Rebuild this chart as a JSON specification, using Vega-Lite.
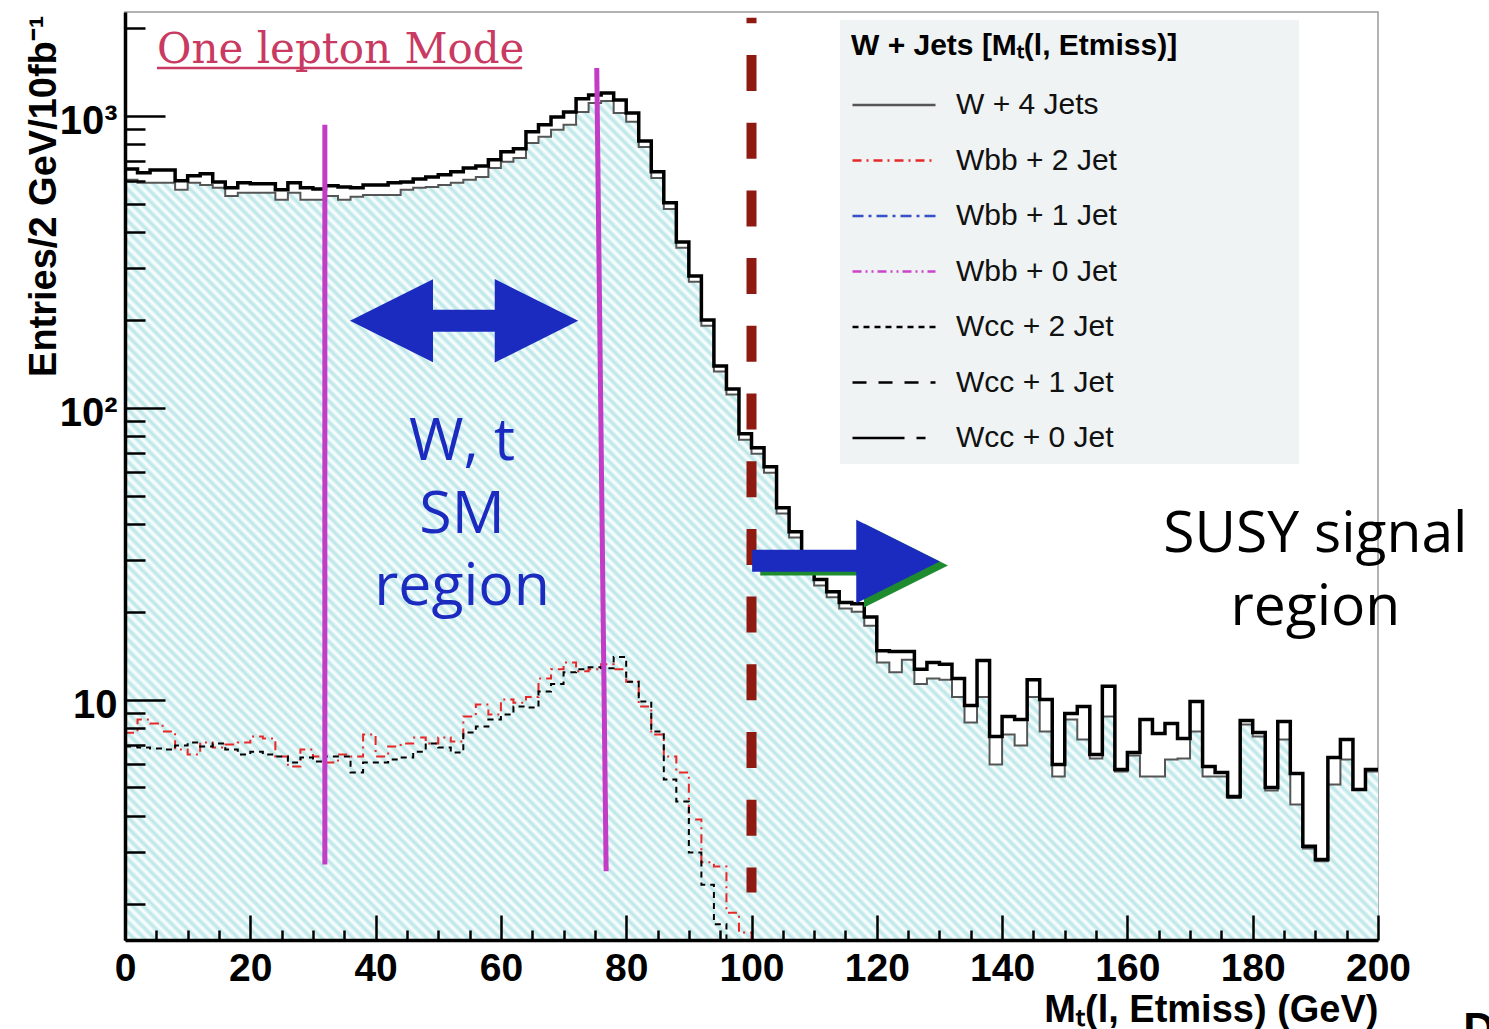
{
"$schema":"https://vega.github.io/schema/vega-lite/v6.json",
"width":1253,"height":928,
"autosize":{"type":"none"},
"padding":{"left":125,"top":12,"right":111,"bottom":89},
"background":"white",
"config":{"font":"Liberation Sans","view":{"stroke":"#999999","strokeWidth":1.5}},
"datasets":{"hist":[
{"x":0,"tot":658,"w4":604,"wbb2":7.7,"wcc2":6.9},
{"x":2,"tot":638,"w4":590,"wbb2":8.54,"wcc2":6.85},
{"x":4,"tot":653,"w4":590,"wbb2":8.28,"wcc2":6.79},
{"x":6,"tot":653,"w4":590,"wbb2":7.77,"wcc2":6.74},
{"x":8,"tot":599,"w4":558,"wbb2":6.74,"wcc2":6.96},
{"x":10,"tot":623,"w4":590,"wbb2":6.48,"wcc2":7.12},
{"x":12,"tot":633,"w4":580,"wbb2":7.12,"wcc2":6.9},
{"x":14,"tot":594,"w4":567,"wbb2":6.85,"wcc2":7.07},
{"x":16,"tot":567,"w4":532,"wbb2":7.01,"wcc2":6.74},
{"x":18,"tot":590,"w4":545,"wbb2":7.12,"wcc2":6.48},
{"x":20,"tot":585,"w4":545,"wbb2":7.47,"wcc2":6.63},
{"x":22,"tot":585,"w4":545,"wbb2":7.35,"wcc2":6.48},
{"x":24,"tot":558,"w4":516,"wbb2":6.38,"wcc2":6.38},
{"x":26,"tot":590,"w4":545,"wbb2":5.9,"wcc2":6.08},
{"x":28,"tot":567,"w4":516,"wbb2":6.74,"wcc2":6.33},
{"x":30,"tot":562,"w4":516,"wbb2":6.38,"wcc2":6.13},
{"x":32,"tot":576,"w4":532,"wbb2":6.08,"wcc2":6.38},
{"x":34,"tot":571,"w4":516,"wbb2":6.48,"wcc2":6.38},
{"x":36,"tot":567,"w4":528,"wbb2":6.38,"wcc2":5.62},
{"x":38,"tot":580,"w4":536,"wbb2":7.59,"wcc2":6.08},
{"x":40,"tot":580,"w4":536,"wbb2":6.38,"wcc2":6.08},
{"x":42,"tot":590,"w4":536,"wbb2":6.9,"wcc2":6.23},
{"x":44,"tot":594,"w4":558,"wbb2":7.07,"wcc2":6.33},
{"x":46,"tot":608,"w4":567,"wbb2":7.41,"wcc2":6.63},
{"x":48,"tot":618,"w4":571,"wbb2":7.07,"wcc2":7.07},
{"x":50,"tot":628,"w4":580,"wbb2":7.41,"wcc2":6.85},
{"x":52,"tot":643,"w4":590,"wbb2":7.18,"wcc2":6.58},
{"x":54,"tot":663,"w4":604,"wbb2":8.75,"wcc2":7.71},
{"x":56,"tot":674,"w4":618,"wbb2":9.61,"wcc2":8.08},
{"x":58,"tot":707,"w4":663,"wbb2":8.88,"wcc2":8.54},
{"x":60,"tot":753,"w4":696,"wbb2":10.0,"wcc2":8.88},
{"x":62,"tot":771,"w4":718,"wbb2":9.76,"wcc2":9.46},
{"x":64,"tot":882,"w4":808,"wbb2":10.2,"wcc2":9.39},
{"x":66,"tot":932,"w4":848,"wbb2":11.8,"wcc2":10.65},
{"x":68,"tot":992,"w4":896,"wbb2":12.7,"wcc2":11.3},
{"x":70,"tot":1032,"w4":932,"wbb2":13.4,"wcc2":12.4},
{"x":72,"tot":1144,"w4":1032,"wbb2":12.5,"wcc2":12.7},
{"x":74,"tot":1180,"w4":1108,"wbb2":12.7,"wcc2":12.9},
{"x":76,"tot":1199,"w4":1125,"wbb2":13.2,"wcc2":12.8},
{"x":78,"tot":1134,"w4":1024,"wbb2":12.7,"wcc2":14.0},
{"x":80,"tot":1024,"w4":954,"wbb2":11.5,"wcc2":11.5},
{"x":82,"tot":821,"w4":783,"wbb2":9.46,"wcc2":9.84},
{"x":84,"tot":643,"w4":613,"wbb2":7.59,"wcc2":7.77},
{"x":86,"tot":504,"w4":480,"wbb2":6.38,"wcc2":5.32},
{"x":88,"tot":370,"w4":353,"wbb2":5.62,"wcc2":4.47},
{"x":90,"tot":283,"w4":270,"wbb2":3.88,"wcc2":2.99},
{"x":92,"tot":200,"w4":191,"wbb2":2.77,"wcc2":2.32},
{"x":94,"tot":139,"w4":133,"wbb2":2.68,"wcc2":1.7},
{"x":96,"tot":116,"w4":111,"wbb2":1.86,"wcc2":1.0},
{"x":98,"tot":81.5,"w4":77.7,"wbb2":1.59},
{"x":100,"tot":72.9,"w4":69.6,"wbb2":1.0},
{"x":102,"tot":62.8,"w4":59.9},
{"x":104,"tot":45.4,"w4":43.4},
{"x":106,"tot":37.6,"w4":35.9},
{"x":108,"tot":30.6,"w4":29.2},
{"x":110,"tot":25.8,"w4":24.6},
{"x":112,"tot":23.4,"w4":22.4},
{"x":114,"tot":21.5,"w4":20.5},
{"x":116,"tot":21.3,"w4":20.0},
{"x":118,"tot":19.2,"w4":17.9},
{"x":120,"tot":14.7,"w4":13.4},
{"x":122,"tot":14.6,"w4":12.4},
{"x":124,"tot":14.6,"w4":13.7},
{"x":126,"tot":12.7,"w4":11.3},
{"x":128,"tot":13.4,"w4":11.8},
{"x":130,"tot":13.2,"w4":11.7},
{"x":132,"tot":11.8,"w4":10.2},
{"x":134,"tot":9.54,"w4":8.34},
{"x":136,"tot":13.6,"w4":10.2},
{"x":138,"tot":7.47,"w4":5.99},
{"x":140,"tot":8.75,"w4":7.59},
{"x":142,"tot":8.54,"w4":6.96},
{"x":144,"tot":11.7,"w4":10.2},
{"x":146,"tot":10.0,"w4":7.77},
{"x":148,"tot":5.99,"w4":5.45},
{"x":150,"tot":8.96,"w4":8.54},
{"x":152,"tot":9.46,"w4":7.29},
{"x":154,"tot":6.48,"w4":6.28},
{"x":156,"tot":11.1,"w4":8.75},
{"x":158,"tot":5.76,"w4":5.67},
{"x":160,"tot":6.58,"w4":6.43},
{"x":162,"tot":8.54,"w4":5.45},
{"x":164,"tot":7.65,"w4":5.45},
{"x":166,"tot":8.28,"w4":6.23},
{"x":168,"tot":7.35,"w4":6.28},
{"x":170,"tot":9.84,"w4":7.77},
{"x":172,"tot":5.9,"w4":5.45},
{"x":174,"tot":5.62,"w4":5.45},
{"x":176,"tot":4.65,"w4":4.6},
{"x":178,"tot":8.48,"w4":8.21},
{"x":180,"tot":7.71,"w4":7.47},
{"x":182,"tot":5.0,"w4":4.88},
{"x":184,"tot":8.41,"w4":7.29},
{"x":186,"tot":5.58,"w4":4.37},
{"x":188,"tot":3.14,"w4":3.09},
{"x":190,"tot":2.83,"w4":2.79},
{"x":192,"tot":6.33,"w4":5.12},
{"x":194,"tot":7.29,"w4":6.23},
{"x":196,"tot":4.92,"w4":4.9},
{"x":198,"tot":5.76,"w4":5.67},
{"x":200,"tot":5.76,"w4":5.67}
]},
"layer":[
{"data":{"name":"hist"},
 "mark":{"type":"area","interpolate":"step-after","clip":true,"opacity":1,
  "fill":{"gradient":"linear","x1":0,"y1":1,"x2":1.153,"y2":0.228,"stops":[
{"offset":0,"color":"#b8e5e7"},{"offset":0.0025,"color":"#ffffff"},{"offset":0.005,"color":"#b8e5e7"},{"offset":0.0075,"color":"#ffffff"},
{"offset":0.01,"color":"#b8e5e7"},{"offset":0.0125,"color":"#ffffff"},{"offset":0.015,"color":"#b8e5e7"},{"offset":0.0175,"color":"#ffffff"},
{"offset":0.02,"color":"#b8e5e7"},{"offset":0.0225,"color":"#ffffff"},{"offset":0.025,"color":"#b8e5e7"},{"offset":0.0275,"color":"#ffffff"},
{"offset":0.03,"color":"#b8e5e7"},{"offset":0.0325,"color":"#ffffff"},{"offset":0.035,"color":"#b8e5e7"},{"offset":0.0375,"color":"#ffffff"},
{"offset":0.04,"color":"#b8e5e7"},{"offset":0.0425,"color":"#ffffff"},{"offset":0.045,"color":"#b8e5e7"},{"offset":0.0475,"color":"#ffffff"},
{"offset":0.05,"color":"#b8e5e7"},{"offset":0.0525,"color":"#ffffff"},{"offset":0.055,"color":"#b8e5e7"},{"offset":0.0575,"color":"#ffffff"},
{"offset":0.06,"color":"#b8e5e7"},{"offset":0.0625,"color":"#ffffff"},{"offset":0.065,"color":"#b8e5e7"},{"offset":0.0675,"color":"#ffffff"},
{"offset":0.07,"color":"#b8e5e7"},{"offset":0.0725,"color":"#ffffff"},{"offset":0.075,"color":"#b8e5e7"},{"offset":0.0775,"color":"#ffffff"},
{"offset":0.08,"color":"#b8e5e7"},{"offset":0.0825,"color":"#ffffff"},{"offset":0.085,"color":"#b8e5e7"},{"offset":0.0875,"color":"#ffffff"},
{"offset":0.09,"color":"#b8e5e7"},{"offset":0.0925,"color":"#ffffff"},{"offset":0.095,"color":"#b8e5e7"},{"offset":0.0975,"color":"#ffffff"},
{"offset":0.1,"color":"#b8e5e7"},{"offset":0.1025,"color":"#ffffff"},{"offset":0.105,"color":"#b8e5e7"},{"offset":0.1075,"color":"#ffffff"},
{"offset":0.11,"color":"#b8e5e7"},{"offset":0.1125,"color":"#ffffff"},{"offset":0.115,"color":"#b8e5e7"},{"offset":0.1175,"color":"#ffffff"},
{"offset":0.12,"color":"#b8e5e7"},{"offset":0.1225,"color":"#ffffff"},{"offset":0.125,"color":"#b8e5e7"},{"offset":0.1275,"color":"#ffffff"},
{"offset":0.13,"color":"#b8e5e7"},{"offset":0.1325,"color":"#ffffff"},{"offset":0.135,"color":"#b8e5e7"},{"offset":0.1375,"color":"#ffffff"},
{"offset":0.14,"color":"#b8e5e7"},{"offset":0.1425,"color":"#ffffff"},{"offset":0.145,"color":"#b8e5e7"},{"offset":0.1475,"color":"#ffffff"},
{"offset":0.15,"color":"#b8e5e7"},{"offset":0.1525,"color":"#ffffff"},{"offset":0.155,"color":"#b8e5e7"},{"offset":0.1575,"color":"#ffffff"},
{"offset":0.16,"color":"#b8e5e7"},{"offset":0.1625,"color":"#ffffff"},{"offset":0.165,"color":"#b8e5e7"},{"offset":0.1675,"color":"#ffffff"},
{"offset":0.17,"color":"#b8e5e7"},{"offset":0.1725,"color":"#ffffff"},{"offset":0.175,"color":"#b8e5e7"},{"offset":0.1775,"color":"#ffffff"},
{"offset":0.18,"color":"#b8e5e7"},{"offset":0.1825,"color":"#ffffff"},{"offset":0.185,"color":"#b8e5e7"},{"offset":0.1875,"color":"#ffffff"},
{"offset":0.19,"color":"#b8e5e7"},{"offset":0.1925,"color":"#ffffff"},{"offset":0.195,"color":"#b8e5e7"},{"offset":0.1975,"color":"#ffffff"},
{"offset":0.2,"color":"#b8e5e7"},{"offset":0.2025,"color":"#ffffff"},{"offset":0.205,"color":"#b8e5e7"},{"offset":0.2075,"color":"#ffffff"},
{"offset":0.21,"color":"#b8e5e7"},{"offset":0.2125,"color":"#ffffff"},{"offset":0.215,"color":"#b8e5e7"},{"offset":0.2175,"color":"#ffffff"},
{"offset":0.22,"color":"#b8e5e7"},{"offset":0.2225,"color":"#ffffff"},{"offset":0.225,"color":"#b8e5e7"},{"offset":0.2275,"color":"#ffffff"},
{"offset":0.23,"color":"#b8e5e7"},{"offset":0.2325,"color":"#ffffff"},{"offset":0.235,"color":"#b8e5e7"},{"offset":0.2375,"color":"#ffffff"},
{"offset":0.24,"color":"#b8e5e7"},{"offset":0.2425,"color":"#ffffff"},{"offset":0.245,"color":"#b8e5e7"},{"offset":0.2475,"color":"#ffffff"},
{"offset":0.25,"color":"#b8e5e7"},{"offset":0.2525,"color":"#ffffff"},{"offset":0.255,"color":"#b8e5e7"},{"offset":0.2575,"color":"#ffffff"},
{"offset":0.26,"color":"#b8e5e7"},{"offset":0.2625,"color":"#ffffff"},{"offset":0.265,"color":"#b8e5e7"},{"offset":0.2675,"color":"#ffffff"},
{"offset":0.27,"color":"#b8e5e7"},{"offset":0.2725,"color":"#ffffff"},{"offset":0.275,"color":"#b8e5e7"},{"offset":0.2775,"color":"#ffffff"},
{"offset":0.28,"color":"#b8e5e7"},{"offset":0.2825,"color":"#ffffff"},{"offset":0.285,"color":"#b8e5e7"},{"offset":0.2875,"color":"#ffffff"},
{"offset":0.29,"color":"#b8e5e7"},{"offset":0.2925,"color":"#ffffff"},{"offset":0.295,"color":"#b8e5e7"},{"offset":0.2975,"color":"#ffffff"},
{"offset":0.3,"color":"#b8e5e7"},{"offset":0.3025,"color":"#ffffff"},{"offset":0.305,"color":"#b8e5e7"},{"offset":0.3075,"color":"#ffffff"},
{"offset":0.31,"color":"#b8e5e7"},{"offset":0.3125,"color":"#ffffff"},{"offset":0.315,"color":"#b8e5e7"},{"offset":0.3175,"color":"#ffffff"},
{"offset":0.32,"color":"#b8e5e7"},{"offset":0.3225,"color":"#ffffff"},{"offset":0.325,"color":"#b8e5e7"},{"offset":0.3275,"color":"#ffffff"},
{"offset":0.33,"color":"#b8e5e7"},{"offset":0.3325,"color":"#ffffff"},{"offset":0.335,"color":"#b8e5e7"},{"offset":0.3375,"color":"#ffffff"},
{"offset":0.34,"color":"#b8e5e7"},{"offset":0.3425,"color":"#ffffff"},{"offset":0.345,"color":"#b8e5e7"},{"offset":0.3475,"color":"#ffffff"},
{"offset":0.35,"color":"#b8e5e7"},{"offset":0.3525,"color":"#ffffff"},{"offset":0.355,"color":"#b8e5e7"},{"offset":0.3575,"color":"#ffffff"},
{"offset":0.36,"color":"#b8e5e7"},{"offset":0.3625,"color":"#ffffff"},{"offset":0.365,"color":"#b8e5e7"},{"offset":0.3675,"color":"#ffffff"},
{"offset":0.37,"color":"#b8e5e7"},{"offset":0.3725,"color":"#ffffff"},{"offset":0.375,"color":"#b8e5e7"},{"offset":0.3775,"color":"#ffffff"},
{"offset":0.38,"color":"#b8e5e7"},{"offset":0.3825,"color":"#ffffff"},{"offset":0.385,"color":"#b8e5e7"},{"offset":0.3875,"color":"#ffffff"},
{"offset":0.39,"color":"#b8e5e7"},{"offset":0.3925,"color":"#ffffff"},{"offset":0.395,"color":"#b8e5e7"},{"offset":0.3975,"color":"#ffffff"},
{"offset":0.4,"color":"#b8e5e7"},{"offset":0.4025,"color":"#ffffff"},{"offset":0.405,"color":"#b8e5e7"},{"offset":0.4075,"color":"#ffffff"},
{"offset":0.41,"color":"#b8e5e7"},{"offset":0.4125,"color":"#ffffff"},{"offset":0.415,"color":"#b8e5e7"},{"offset":0.4175,"color":"#ffffff"},
{"offset":0.42,"color":"#b8e5e7"},{"offset":0.4225,"color":"#ffffff"},{"offset":0.425,"color":"#b8e5e7"},{"offset":0.4275,"color":"#ffffff"},
{"offset":0.43,"color":"#b8e5e7"},{"offset":0.4325,"color":"#ffffff"},{"offset":0.435,"color":"#b8e5e7"},{"offset":0.4375,"color":"#ffffff"},
{"offset":0.44,"color":"#b8e5e7"},{"offset":0.4425,"color":"#ffffff"},{"offset":0.445,"color":"#b8e5e7"},{"offset":0.4475,"color":"#ffffff"},
{"offset":0.45,"color":"#b8e5e7"},{"offset":0.4525,"color":"#ffffff"},{"offset":0.455,"color":"#b8e5e7"},{"offset":0.4575,"color":"#ffffff"},
{"offset":0.46,"color":"#b8e5e7"},{"offset":0.4625,"color":"#ffffff"},{"offset":0.465,"color":"#b8e5e7"},{"offset":0.4675,"color":"#ffffff"},
{"offset":0.47,"color":"#b8e5e7"},{"offset":0.4725,"color":"#ffffff"},{"offset":0.475,"color":"#b8e5e7"},{"offset":0.4775,"color":"#ffffff"},
{"offset":0.48,"color":"#b8e5e7"},{"offset":0.4825,"color":"#ffffff"},{"offset":0.485,"color":"#b8e5e7"},{"offset":0.4875,"color":"#ffffff"},
{"offset":0.49,"color":"#b8e5e7"},{"offset":0.4925,"color":"#ffffff"},{"offset":0.495,"color":"#b8e5e7"},{"offset":0.4975,"color":"#ffffff"},
{"offset":0.5,"color":"#b8e5e7"},{"offset":0.5025,"color":"#ffffff"},{"offset":0.505,"color":"#b8e5e7"},{"offset":0.5075,"color":"#ffffff"},
{"offset":0.51,"color":"#b8e5e7"},{"offset":0.5125,"color":"#ffffff"},{"offset":0.515,"color":"#b8e5e7"},{"offset":0.5175,"color":"#ffffff"},
{"offset":0.52,"color":"#b8e5e7"},{"offset":0.5225,"color":"#ffffff"},{"offset":0.525,"color":"#b8e5e7"},{"offset":0.5275,"color":"#ffffff"},
{"offset":0.53,"color":"#b8e5e7"},{"offset":0.5325,"color":"#ffffff"},{"offset":0.535,"color":"#b8e5e7"},{"offset":0.5375,"color":"#ffffff"},
{"offset":0.54,"color":"#b8e5e7"},{"offset":0.5425,"color":"#ffffff"},{"offset":0.545,"color":"#b8e5e7"},{"offset":0.5475,"color":"#ffffff"},
{"offset":0.55,"color":"#b8e5e7"},{"offset":0.5525,"color":"#ffffff"},{"offset":0.555,"color":"#b8e5e7"},{"offset":0.5575,"color":"#ffffff"},
{"offset":0.56,"color":"#b8e5e7"},{"offset":0.5625,"color":"#ffffff"},{"offset":0.565,"color":"#b8e5e7"},{"offset":0.5675,"color":"#ffffff"},
{"offset":0.57,"color":"#b8e5e7"},{"offset":0.5725,"color":"#ffffff"},{"offset":0.575,"color":"#b8e5e7"},{"offset":0.5775,"color":"#ffffff"},
{"offset":0.58,"color":"#b8e5e7"},{"offset":0.5825,"color":"#ffffff"},{"offset":0.585,"color":"#b8e5e7"},{"offset":0.5875,"color":"#ffffff"},
{"offset":0.59,"color":"#b8e5e7"},{"offset":0.5925,"color":"#ffffff"},{"offset":0.595,"color":"#b8e5e7"},{"offset":0.5975,"color":"#ffffff"},
{"offset":0.6,"color":"#b8e5e7"},{"offset":0.6025,"color":"#ffffff"},{"offset":0.605,"color":"#b8e5e7"},{"offset":0.6075,"color":"#ffffff"},
{"offset":0.61,"color":"#b8e5e7"},{"offset":0.6125,"color":"#ffffff"},{"offset":0.615,"color":"#b8e5e7"},{"offset":0.6175,"color":"#ffffff"},
{"offset":0.62,"color":"#b8e5e7"},{"offset":0.6225,"color":"#ffffff"},{"offset":0.625,"color":"#b8e5e7"},{"offset":0.6275,"color":"#ffffff"},
{"offset":0.63,"color":"#b8e5e7"},{"offset":0.6325,"color":"#ffffff"},{"offset":0.635,"color":"#b8e5e7"},{"offset":0.6375,"color":"#ffffff"},
{"offset":0.64,"color":"#b8e5e7"},{"offset":0.6425,"color":"#ffffff"},{"offset":0.645,"color":"#b8e5e7"},{"offset":0.6475,"color":"#ffffff"},
{"offset":0.65,"color":"#b8e5e7"},{"offset":0.6525,"color":"#ffffff"},{"offset":0.655,"color":"#b8e5e7"},{"offset":0.6575,"color":"#ffffff"},
{"offset":0.66,"color":"#b8e5e7"},{"offset":0.6625,"color":"#ffffff"},{"offset":0.665,"color":"#b8e5e7"},{"offset":0.6675,"color":"#ffffff"},
{"offset":0.67,"color":"#b8e5e7"},{"offset":0.6725,"color":"#ffffff"},{"offset":0.675,"color":"#b8e5e7"},{"offset":0.6775,"color":"#ffffff"},
{"offset":0.68,"color":"#b8e5e7"},{"offset":0.6825,"color":"#ffffff"},{"offset":0.685,"color":"#b8e5e7"},{"offset":0.6875,"color":"#ffffff"},
{"offset":0.69,"color":"#b8e5e7"},{"offset":0.6925,"color":"#ffffff"},{"offset":0.695,"color":"#b8e5e7"},{"offset":0.6975,"color":"#ffffff"},
{"offset":0.7,"color":"#b8e5e7"},{"offset":0.7025,"color":"#ffffff"},{"offset":0.705,"color":"#b8e5e7"},{"offset":0.7075,"color":"#ffffff"},
{"offset":0.71,"color":"#b8e5e7"},{"offset":0.7125,"color":"#ffffff"},{"offset":0.715,"color":"#b8e5e7"},{"offset":0.7175,"color":"#ffffff"},
{"offset":0.72,"color":"#b8e5e7"},{"offset":0.7225,"color":"#ffffff"},{"offset":0.725,"color":"#b8e5e7"},{"offset":0.7275,"color":"#ffffff"},
{"offset":0.73,"color":"#b8e5e7"},{"offset":0.7325,"color":"#ffffff"},{"offset":0.735,"color":"#b8e5e7"},{"offset":0.7375,"color":"#ffffff"},
{"offset":0.74,"color":"#b8e5e7"},{"offset":0.7425,"color":"#ffffff"},{"offset":0.745,"color":"#b8e5e7"},{"offset":0.7475,"color":"#ffffff"},
{"offset":0.75,"color":"#b8e5e7"},{"offset":0.7525,"color":"#ffffff"},{"offset":0.755,"color":"#b8e5e7"},{"offset":0.7575,"color":"#ffffff"},
{"offset":0.76,"color":"#b8e5e7"},{"offset":0.7625,"color":"#ffffff"},{"offset":0.765,"color":"#b8e5e7"},{"offset":0.7675,"color":"#ffffff"},
{"offset":0.77,"color":"#b8e5e7"},{"offset":0.7725,"color":"#ffffff"},{"offset":0.775,"color":"#b8e5e7"},{"offset":0.7775,"color":"#ffffff"},
{"offset":0.78,"color":"#b8e5e7"},{"offset":0.7825,"color":"#ffffff"},{"offset":0.785,"color":"#b8e5e7"},{"offset":0.7875,"color":"#ffffff"},
{"offset":0.79,"color":"#b8e5e7"},{"offset":0.7925,"color":"#ffffff"},{"offset":0.795,"color":"#b8e5e7"},{"offset":0.7975,"color":"#ffffff"},
{"offset":0.8,"color":"#b8e5e7"},{"offset":0.8025,"color":"#ffffff"},{"offset":0.805,"color":"#b8e5e7"},{"offset":0.8075,"color":"#ffffff"},
{"offset":0.81,"color":"#b8e5e7"},{"offset":0.8125,"color":"#ffffff"},{"offset":0.815,"color":"#b8e5e7"},{"offset":0.8175,"color":"#ffffff"},
{"offset":0.82,"color":"#b8e5e7"},{"offset":0.8225,"color":"#ffffff"},{"offset":0.825,"color":"#b8e5e7"},{"offset":0.8275,"color":"#ffffff"},
{"offset":0.83,"color":"#b8e5e7"},{"offset":0.8325,"color":"#ffffff"},{"offset":0.835,"color":"#b8e5e7"},{"offset":0.8375,"color":"#ffffff"},
{"offset":0.84,"color":"#b8e5e7"},{"offset":0.8425,"color":"#ffffff"},{"offset":0.845,"color":"#b8e5e7"},{"offset":0.8475,"color":"#ffffff"},
{"offset":0.85,"color":"#b8e5e7"},{"offset":0.8525,"color":"#ffffff"},{"offset":0.855,"color":"#b8e5e7"},{"offset":0.8575,"color":"#ffffff"},
{"offset":0.86,"color":"#b8e5e7"},{"offset":0.8625,"color":"#ffffff"},{"offset":0.865,"color":"#b8e5e7"},{"offset":0.8675,"color":"#ffffff"},
{"offset":0.87,"color":"#b8e5e7"},{"offset":0.8725,"color":"#ffffff"},{"offset":0.875,"color":"#b8e5e7"},{"offset":0.8775,"color":"#ffffff"},
{"offset":0.88,"color":"#b8e5e7"},{"offset":0.8825,"color":"#ffffff"},{"offset":0.885,"color":"#b8e5e7"},{"offset":0.8875,"color":"#ffffff"},
{"offset":0.89,"color":"#b8e5e7"},{"offset":0.8925,"color":"#ffffff"},{"offset":0.895,"color":"#b8e5e7"},{"offset":0.8975,"color":"#ffffff"},
{"offset":0.9,"color":"#b8e5e7"},{"offset":0.9025,"color":"#ffffff"},{"offset":0.905,"color":"#b8e5e7"},{"offset":0.9075,"color":"#ffffff"},
{"offset":0.91,"color":"#b8e5e7"},{"offset":0.9125,"color":"#ffffff"},{"offset":0.915,"color":"#b8e5e7"},{"offset":0.9175,"color":"#ffffff"},
{"offset":0.92,"color":"#b8e5e7"},{"offset":0.9225,"color":"#ffffff"},{"offset":0.925,"color":"#b8e5e7"},{"offset":0.9275,"color":"#ffffff"},
{"offset":0.93,"color":"#b8e5e7"},{"offset":0.9325,"color":"#ffffff"},{"offset":0.935,"color":"#b8e5e7"},{"offset":0.9375,"color":"#ffffff"},
{"offset":0.94,"color":"#b8e5e7"},{"offset":0.9425,"color":"#ffffff"},{"offset":0.945,"color":"#b8e5e7"},{"offset":0.9475,"color":"#ffffff"},
{"offset":0.95,"color":"#b8e5e7"},{"offset":0.9525,"color":"#ffffff"},{"offset":0.955,"color":"#b8e5e7"},{"offset":0.9575,"color":"#ffffff"},
{"offset":0.96,"color":"#b8e5e7"},{"offset":0.9625,"color":"#ffffff"},{"offset":0.965,"color":"#b8e5e7"},{"offset":0.9675,"color":"#ffffff"},
{"offset":0.97,"color":"#b8e5e7"},{"offset":0.9725,"color":"#ffffff"},{"offset":0.975,"color":"#b8e5e7"},{"offset":0.9775,"color":"#ffffff"},
{"offset":0.98,"color":"#b8e5e7"},{"offset":0.9825,"color":"#ffffff"},{"offset":0.985,"color":"#b8e5e7"},{"offset":0.9875,"color":"#ffffff"},
{"offset":0.99,"color":"#b8e5e7"},{"offset":0.9925,"color":"#ffffff"},{"offset":0.995,"color":"#b8e5e7"},{"offset":0.9975,"color":"#ffffff"},
{"offset":1,"color":"#b8e5e7"}]}},
 "encoding":{
  "x":{"field":"x","type":"quantitative","scale":{"domain":[0,200],"nice":false,"zero":false},
   "axis":{"orient":"bottom","values":[5,10,15,25,30,35,45,50,55,65,70,75,85,90,95,105,110,115,125,130,135,145,150,155,165,170,175,185,190,195],"tickSize":-10,"tickWidth":2.5,"tickColor":"#000000","labels":false,"domain":false,"grid":false,"title":null,"zindex":1}},
  "y":{"field":"w4","type":"quantitative","scale":{"type":"log","domain":[1.5,2270],"nice":false},
   "axis":{"orient":"left","values":[2,3,4,5,6,7,8,9,20,30,40,50,60,70,80,90,200,300,400,500,600,700,800,900,2000],"tickSize":-20,"tickWidth":2.5,"tickColor":"#000000","labels":false,"domain":false,"grid":false,"title":null,"zindex":1}},
  "y2":{"datum":1.5}
 }},
{"data":{"name":"hist"},
 "transform":[{"fold":["w4","wbb2","wcc2"],"as":["series","val"]}],
 "mark":{"type":"line","interpolate":"step-after","clip":true,"strokeWidth":2},
 "encoding":{
  "x":{"field":"x","type":"quantitative","scale":{"domain":[0,200],"nice":false,"zero":false},"axis":null},
  "y":{"field":"val","type":"quantitative","scale":{"type":"log","domain":[1.5,2270],"nice":false},"axis":null},
  "color":{"field":"series","type":"nominal",
   "scale":{"domain":["w4","wbb2","wbb1","wbb0","wcc2","wcc1","wcc0"],"range":["#555555","#e62828","#3550c8","#cc44cc","#000000","#000000","#000000"]},
   "legend":{"orient":"none","legendX":715,"legendY":8,"title":"W + Jets [M\u209c(l, Etmiss)]\u2800\u2800\u2800\u2800\u2800","titleFont":"Liberation Sans","titleFontSize":30,"titleFontWeight":"bold","titleColor":"#000000","titleLimit":1000,"titlePadding":29,"labelFont":"Liberation Sans","labelFontSize":30,"labelColor":"#111111","labelLimit":1000,"labelOffset":19,"symbolType":"stroke","symbolSize":6889,"symbolStrokeWidth":2.5,"clipHeight":30,"rowPadding":25.5,"fillColor":"#eff3f3","padding":11,
    "labelExpr":"datum.value=='w4'?'W + 4 Jets':datum.value=='wbb2'?'Wbb + 2 Jet':datum.value=='wbb1'?'Wbb + 1 Jet':datum.value=='wbb0'?'Wbb + 0 Jet':datum.value=='wcc2'?'Wcc + 2 Jet':datum.value=='wcc1'?'Wcc + 1 Jet':'Wcc + 0 Jet'"}},
  "strokeDash":{"field":"series","type":"nominal",
   "scale":{"domain":["w4","wbb2","wbb1","wbb0","wcc2","wcc1","wcc0"],"range":[[1,0],[9,5,2,5],[11,5,3,5],[9,4,2,4,2,4],[6,5],[14,12],[52,12,9,12]]},
   "legend":{"orient":"none","legendX":715,"legendY":8,"title":"W + Jets [M\u209c(l, Etmiss)]\u2800\u2800\u2800\u2800\u2800","titleFont":"Liberation Sans","titleFontSize":30,"titleFontWeight":"bold","titleColor":"#000000","titleLimit":1000,"titlePadding":29,"labelFont":"Liberation Sans","labelFontSize":30,"labelColor":"#111111","labelLimit":1000,"labelOffset":19,"symbolType":"stroke","symbolSize":6889,"symbolStrokeWidth":2.5,"clipHeight":30,"rowPadding":25.5,"fillColor":"#eff3f3","padding":11,
    "labelExpr":"datum.value=='w4'?'W + 4 Jets':datum.value=='wbb2'?'Wbb + 2 Jet':datum.value=='wbb1'?'Wbb + 1 Jet':datum.value=='wbb0'?'Wbb + 0 Jet':datum.value=='wcc2'?'Wcc + 2 Jet':datum.value=='wcc1'?'Wcc + 1 Jet':'Wcc + 0 Jet'"}}
 }},
{"data":{"name":"hist"},
 "mark":{"type":"line","interpolate":"step-after","clip":true,"strokeWidth":3.5,"color":"#000000"},
 "encoding":{
  "x":{"field":"x","type":"quantitative","scale":{"domain":[0,200],"nice":false,"zero":false},
   "axis":{"orient":"bottom","values":[0,20,40,60,80,100,120,140,160,180,200],"tickSize":-25,"tickWidth":2.5,"tickColor":"#000000","domainColor":"#000000","domainWidth":3.5,"grid":false,"labelFont":"Liberation Sans","labelFontWeight":"bold","labelFontSize":39,"labelColor":"#000000","labelPadding":34,"labelFlush":false,"labelOverlap":false,"labelBaseline":"top",
    "title":"M\u209c(l, Etmiss) (GeV)","titleFont":"Liberation Sans","titleFontSize":38,"titleFontWeight":"bold","titleColor":"#000000","titleAnchor":"end","titleAlign":"right","titleBaseline":"alphabetic","titleX":1253,"titleY":81,"zindex":1}},
  "y":{"field":"tot","type":"quantitative","scale":{"type":"log","domain":[1.5,2270],"nice":false},
   "axis":{"orient":"left","values":[10,100,1000],"tickSize":-40,"tickWidth":2.5,"tickColor":"#000000","domainColor":"#000000","domainWidth":3.5,"grid":false,"labelFont":"Liberation Sans","labelFontWeight":"bold","labelFontSize":40,"labelColor":"#000000","labelPadding":48,"labelOffset":6,"labelOverlap":false,"labelBaseline":"middle",
    "labelExpr":"datum.value==1000?'10\u00b3':datum.value==100?'10\u00b2':'10'",
    "title":"Entries/2 GeV/10fb\u207b\u00b9","titleFont":"Liberation Sans","titleFontSize":38,"titleFontWeight":"bold","titleColor":"#000000","titleAnchor":"end","titleAlign":"right","titleBaseline":"alphabetic","titleAngle":270,"titleX":-70,"titleY":3,"zindex":1}}
 }},
{"data":{"values":[{"x":31.9,"x2":31.9,"y":932,"y2":2.72},{"x":75.3,"x2":76.8,"y":1460,"y2":2.58}]},
 "mark":{"type":"rule","color":"#c23cc6","strokeWidth":5},
 "encoding":{
  "x":{"field":"x","type":"quantitative","scale":{"domain":[0,200],"nice":false,"zero":false},"axis":null},
  "x2":{"field":"x2"},
  "y":{"field":"y","type":"quantitative","scale":{"type":"log","domain":[1.5,2270],"nice":false},"axis":null},
  "y2":{"field":"y2"}}},
{"data":{"values":[{"x":100,"y":2170,"y2":2.18}]},
 "mark":{"type":"rule","color":"#8e1a12","strokeWidth":10,"strokeDash":[36,31.7],"strokeDashOffset":30.4,"strokeCap":"butt"},
 "encoding":{
  "x":{"field":"x","type":"quantitative","scale":{"domain":[0,200],"nice":false,"zero":false},"axis":null},
  "y":{"field":"y","type":"quantitative","scale":{"type":"log","domain":[1.5,2270],"nice":false},"axis":null},
  "y2":{"field":"y2"}}},
{"data":{"values":[{"x":101.4,"x2":120,"y":29.0}]},
 "mark":{"type":"rule","color":"#1e8c2e","strokeWidth":22,"strokeCap":"butt"},
 "encoding":{
  "x":{"field":"x","type":"quantitative","scale":{"domain":[0,200],"nice":false,"zero":false},"axis":null},
  "x2":{"field":"x2"},
  "y":{"field":"y","type":"quantitative","scale":{"type":"log","domain":[1.5,2270],"nice":false},"axis":null}}},
{"data":{"values":[{"x":124.66,"y":28.8}]},
 "mark":{"type":"point","shape":"M-1,-1L1,0L-1,1Z","size":7056,"filled":true,"color":"#1e8c2e","opacity":1,"strokeWidth":0},
 "encoding":{
  "x":{"field":"x","type":"quantitative","scale":{"domain":[0,200],"nice":false,"zero":false},"axis":null},
  "y":{"field":"y","type":"quantitative","scale":{"type":"log","domain":[1.5,2270],"nice":false},"axis":null}}},
{"data":{"values":[{"x":47.1,"x2":61.5,"y":198.6},{"x":100.1,"x2":119.1,"y":29.9}]},
 "mark":{"type":"rule","color":"#1b2bc0","strokeWidth":22,"strokeCap":"butt"},
 "encoding":{
  "x":{"field":"x","type":"quantitative","scale":{"domain":[0,200],"nice":false,"zero":false},"axis":null},
  "x2":{"field":"x2"},
  "y":{"field":"y","type":"quantitative","scale":{"type":"log","domain":[1.5,2270],"nice":false},"axis":null}}},
{"data":{"values":[{"x":65.68,"y":198.6},{"x":123.38,"y":29.7}]},
 "mark":{"type":"point","shape":"M-1,-1L1,0L-1,1Z","size":6970,"filled":true,"color":"#1b2bc0","opacity":1,"strokeWidth":0},
 "encoding":{
  "x":{"field":"x","type":"quantitative","scale":{"domain":[0,200],"nice":false,"zero":false},"axis":null},
  "y":{"field":"y","type":"quantitative","scale":{"type":"log","domain":[1.5,2270],"nice":false},"axis":null}}},
{"data":{"values":[{"x":42.54,"y":198.6}]},
 "mark":{"type":"point","shape":"M1,-1L-1,0L1,1Z","size":6889,"filled":true,"color":"#1b2bc0","opacity":1,"strokeWidth":0},
 "encoding":{
  "x":{"field":"x","type":"quantitative","scale":{"domain":[0,200],"nice":false,"zero":false},"axis":null},
  "y":{"field":"y","type":"quantitative","scale":{"type":"log","domain":[1.5,2270],"nice":false},"axis":null}}},
{"data":{"values":[{"x":5.1,"x2":63.4,"y":1460}]},
 "mark":{"type":"rule","color":"#c93a62","strokeWidth":2.5},
 "encoding":{
  "x":{"field":"x","type":"quantitative","scale":{"domain":[0,200],"nice":false,"zero":false},"axis":null},
  "x2":{"field":"x2"},
  "y":{"field":"y","type":"quantitative","scale":{"type":"log","domain":[1.5,2270],"nice":false},"axis":null}}},
{"data":{"values":[{"x":5.1,"y":1519,"t":"One lepton Mode"}]},
 "mark":{"type":"text","font":"DejaVu Serif","fontSize":42,"color":"#c93a62","align":"left","baseline":"alphabetic"},
 "encoding":{
  "x":{"field":"x","type":"quantitative","scale":{"domain":[0,200],"nice":false,"zero":false},"axis":null},
  "y":{"field":"y","type":"quantitative","scale":{"type":"log","domain":[1.5,2270],"nice":false},"axis":null},
  "text":{"field":"t"}}},
{"data":{"values":[{"x":53.8,"y":66.4,"t":"W, t"},{"x":53.8,"y":37.3,"t":"SM"},{"x":53.8,"y":21.1,"t":"region"}]},
 "mark":{"type":"text","font":"Open Sans","fontSize":59,"color":"#1b2bc0","align":"center","baseline":"alphabetic"},
 "encoding":{
  "x":{"field":"x","type":"quantitative","scale":{"domain":[0,200],"nice":false,"zero":false},"axis":null},
  "y":{"field":"y","type":"quantitative","scale":{"type":"log","domain":[1.5,2270],"nice":false},"axis":null},
  "text":{"field":"t"}}},
{"data":{"values":[{"x":190,"y":32.1,"t":"SUSY signal"},{"x":190,"y":18.06,"t":"region"}]},
 "mark":{"type":"text","font":"Open Sans","fontSize":57,"color":"#000000","align":"center","baseline":"alphabetic"},
 "encoding":{
  "x":{"field":"x","type":"quantitative","scale":{"domain":[0,200],"nice":false,"zero":false},"axis":null},
  "y":{"field":"y","type":"quantitative","scale":{"type":"log","domain":[1.5,2270],"nice":false},"axis":null},
  "text":{"field":"t"}}},
{"data":{"values":[{"x":213.6,"y":0.66,"t":"D"}]},
 "mark":{"type":"text","font":"Liberation Sans","fontWeight":"bold","fontSize":44,"color":"#000000","align":"left","baseline":"alphabetic"},
 "encoding":{
  "x":{"field":"x","type":"quantitative","scale":{"domain":[0,200],"nice":false,"zero":false},"axis":null},
  "y":{"field":"y","type":"quantitative","scale":{"type":"log","domain":[1.5,2270],"nice":false},"axis":null},
  "text":{"field":"t"}}}
],
"resolve":{"axis":{"x":"independent","y":"independent"}}
}
